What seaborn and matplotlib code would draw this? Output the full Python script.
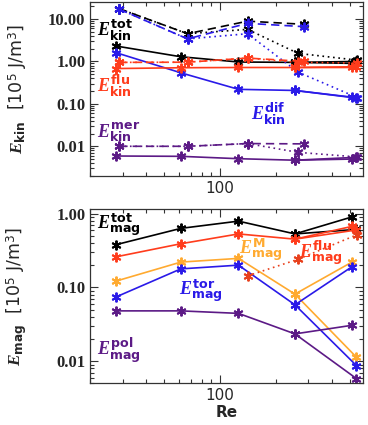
import matplotlib
matplotlib.use("Agg")
import matplotlib.pyplot as plt
import seaborn as sns
import numpy as np
from matplotlib.ticker import LogLocator, NullFormatter, FixedLocator, FixedFormatter

sns.set_style("ticks")
plt.rcParams['font.family'] = ['DejaVu Sans']
plt.rcParams['mathtext.fontset'] = 'custom'
plt.rcParams['mathtext.it'] = 'Liberation Serif:italic:bold'
plt.rcParams['mathtext.bf'] = 'DejaVu Sans:bold'
plt.rcParams['mathtext.rm'] = 'DejaVu Sans'

# ---------------- data ----------------
Re_solid = [27.7, 61.6, 126, 254, 515]
Re_branch = [254, 545]
Re_dash = [28.7, 67, 141, 284]
Re_dot = [28.7, 67, 141, 264, 552]
Re_magdot = [141, 264, 552]

# kinetic energies
kin_tot_solid = [2.3, 1.29, 0.97, 0.95, 0.90]
kin_tot_branch = [0.95, 1.0]
kin_tot_dash = [17.5, 4.5, 8.9, 7.5]
kin_tot_dot = [17.5, 4.5, 5.7, 1.55, 1.07]

kin_dif_solid = [1.6, 0.54, 0.22, 0.207, 0.144]
kin_dif_branch = [0.207, 0.137]
kin_dif_dash = [17.0, 3.4, 7.9, 6.6]
kin_dif_dot = [17.0, 3.4, 4.5, 0.56, 0.14]

kin_flu_solid = [0.68, 0.71, 0.72, 0.72, 0.72]
kin_flu_branch = [0.72, 0.75]
kin_flu_dash = [0.95, 0.96, 1.2, 1.0]
kin_flu_dot = [0.95, 0.96, 1.2, 0.95, 0.92]

kin_mer_solid = [0.0059, 0.0058, 0.0051, 0.0047, 0.0050]
kin_mer_branch = [0.0047, 0.0055]
kin_mer_dash = [0.0100, 0.0100, 0.0116, 0.0114]
kin_mer_dot = [0.0100, 0.0100, 0.0116, 0.0072, 0.0056]

# magnetic energies
mag_tot_solid = [0.38, 0.63, 0.79, 0.53, 0.90]
mag_tot_branch = [0.53, 0.61]
mag_flu_solid = [0.26, 0.39, 0.53, 0.45, 0.67]
mag_flu_branch = [0.45, 0.60]
mag_flu_dot = [0.143, 0.24, 0.52]
mag_M_solid = [0.122, 0.22, 0.247, 0.081, 0.22]
mag_M_branch = [0.081, 0.0113]
mag_tor_solid = [0.0745, 0.178, 0.20, 0.058, 0.19]
mag_tor_branch = [0.058, 0.0087]
mag_pol_solid = [0.048, 0.048, 0.0444, 0.0234, 0.0306]
mag_pol_branch = [0.0234, 0.0058]

BLACK = '#000000'
RED = '#ff3c1c'
BLUE = '#2a1ae8'
PURPLE = '#5c1a86'
ORANGE = '#ffaa30'
DRED = '#e8401c'

fig = plt.figure(figsize=(3.68, 4.25), dpi=100)
ax1 = fig.add_axes([0.245, 0.586, 0.741, 0.409])
ax2 = fig.add_axes([0.245, 0.098, 0.741, 0.410])

MK = dict(marker=(6, 2, 0), markersize=7, markeredgewidth=1.4, estimator=None, sort=False, legend=False)

def draw(ax, x, y, color, ls):
    sns.lineplot(x=x, y=y, ax=ax, color=color, linestyle=ls, linewidth=1.2,
                 markeredgecolor=color, markerfacecolor=color, **MK)

DOT = (0, (1, 2.2))
DASH = (0, (5, 3))

for col, s, b, d, o in [
    (BLACK, kin_tot_solid, kin_tot_branch, kin_tot_dash, kin_tot_dot),
    (BLUE, kin_dif_solid, kin_dif_branch, kin_dif_dash, kin_dif_dot),
    (RED, kin_flu_solid, kin_flu_branch, kin_flu_dash, kin_flu_dot),
    (PURPLE, kin_mer_solid, kin_mer_branch, kin_mer_dash, kin_mer_dot),
]:
    draw(ax1, Re_solid, s, col, '-')
    draw(ax1, Re_branch, b, col, '-')
    draw(ax1, Re_dash, d, col, DASH)
    draw(ax1, Re_dot, o, col, DOT)

for col, s, b in [
    (BLACK, mag_tot_solid, mag_tot_branch),
    (RED, mag_flu_solid, mag_flu_branch),
    (ORANGE, mag_M_solid, mag_M_branch),
    (BLUE, mag_tor_solid, mag_tor_branch),
    (PURPLE, mag_pol_solid, mag_pol_branch),
]:
    draw(ax2, Re_solid, s, col, '-')
    draw(ax2, Re_branch, b, col, '-')
draw(ax2, Re_magdot, mag_flu_dot, DRED, DOT)

for ax, ylim, yt in [(ax1, (0.002, 25), [0.01, 0.1, 1, 10]), (ax2, (0.005, 1.15), [0.01, 0.1, 1])]:
    ax.set_xscale('log')
    ax.set_yscale('log')
    ax.set_xlim(20, 590)
    ax.set_ylim(*ylim)
    ax.xaxis.set_major_locator(FixedLocator([100]))
    ax.xaxis.set_major_formatter(FixedFormatter(['100']))
    ax.xaxis.set_minor_locator(LogLocator(base=10, subs=np.arange(2, 10)))
    ax.xaxis.set_minor_formatter(NullFormatter())
    ax.yaxis.set_major_locator(FixedLocator(yt))
    ax.yaxis.set_major_formatter(FixedFormatter(['%.2f' % v for v in yt]))
    ax.yaxis.set_minor_locator(LogLocator(base=10, subs=np.arange(2, 10)))
    ax.yaxis.set_minor_formatter(NullFormatter())
    ax.tick_params(which='both', direction='in', top=True, right=True, width=0.8, color='#333333')
    ax.tick_params(which='major', length=6)
    ax.tick_params(which='minor', length=3)
    for lab in ax.get_yticklabels():
        lab.set_fontfamily('Liberation Serif')
        lab.set_fontweight('bold')
        lab.set_fontsize(12)
    for lab in ax.get_xticklabels():
        lab.set_fontsize(11)
    for sp in ax.spines.values():
        sp.set_linewidth(0.9)
        sp.set_color('#333333')

ax1.tick_params(axis='x', labelbottom=True)
ax1.set_ylabel(r'$E_{\mathbf{kin}}$  [10$^5$ J/m$^3$]', fontsize=12.5)
ax2.set_ylabel(r'$E_{\mathbf{mag}}$  [10$^5$ J/m$^3$]', fontsize=12.5)
ax1.yaxis.set_label_coords(-0.225, 0.5)
ax2.yaxis.set_label_coords(-0.225, 0.5)
ax2.set_xlabel('Re', fontsize=11, fontweight='bold', labelpad=1)

TS = 13
ax1.text(0.025, 0.84, r'$E^{\mathbf{tot}}_{\mathbf{kin}}$', color=BLACK, fontsize=TS, transform=ax1.transAxes, va='center')
ax1.text(0.025, 0.52, r'$E^{\mathbf{flu}}_{\mathbf{kin}}$', color=RED, fontsize=TS, transform=ax1.transAxes, va='center')
ax1.text(0.59, 0.36, r'$E^{\mathbf{dif}}_{\mathbf{kin}}$', color=BLUE, fontsize=TS, transform=ax1.transAxes, va='center')
ax1.text(0.025, 0.25, r'$E^{\mathbf{mer}}_{\mathbf{kin}}$', color=PURPLE, fontsize=TS, transform=ax1.transAxes, va='center')

ax2.text(0.025, 0.905, r'$E^{\mathbf{tot}}_{\mathbf{mag}}$', color=BLACK, fontsize=TS, transform=ax2.transAxes, va='center')
ax2.text(0.545, 0.76, r'$E^{\mathbf{M}}_{\mathbf{mag}}$', color=ORANGE, fontsize=TS, transform=ax2.transAxes, va='center')
ax2.text(0.765, 0.745, r'$E^{\mathbf{flu}}_{\mathbf{mag}}$', color=RED, fontsize=TS, transform=ax2.transAxes, va='center')
ax2.text(0.325, 0.525, r'$E^{\mathbf{tor}}_{\mathbf{mag}}$', color=BLUE, fontsize=TS, transform=ax2.transAxes, va='center')
ax2.text(0.025, 0.19, r'$E^{\mathbf{pol}}_{\mathbf{mag}}$', color=PURPLE, fontsize=TS, transform=ax2.transAxes, va='center')

fig.savefig('out.png', dpi=100)
